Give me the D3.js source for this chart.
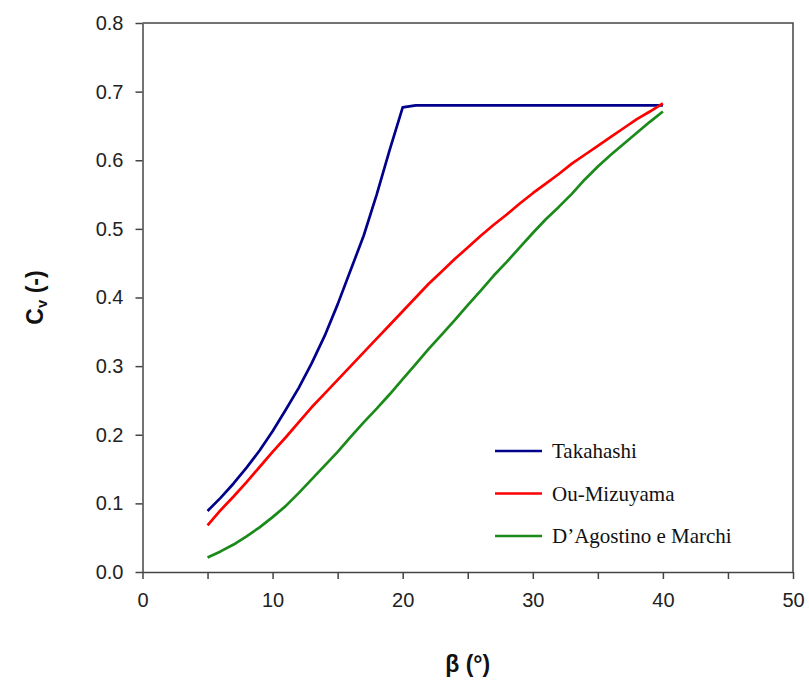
<!DOCTYPE html>
<html>
<head>
    <script src="https://cdnjs.cloudflare.com/ajax/libs/d3/7.8.5/d3.min.js"></script>
    <style>
        body { margin: 0; background: #fff; }
        .tick text { font-family: "Liberation Sans", Arial, sans-serif; font-size: 20px; fill: #222; }
        .domain, .tick line { stroke: #444; stroke-width: 1.5; }
        .axis-label { font-family: "Liberation Sans", Arial, sans-serif; font-size: 23px; font-weight: bold; fill: #111; }
        .legend-text { font-family: "Liberation Serif", "Times New Roman", serif; font-size: 21px; fill: #111; }
        .line { fill: none; stroke-width: 2.7; stroke-linejoin: round; }
    </style>
</head>
<body>
    <svg width="809" height="684"></svg>
    <script>
        // beta in degrees
        const beta = d3.range(5, 41);

        const takahashi = [0.089, 0.108, 0.129, 0.152, 0.177, 0.205, 0.236, 0.268, 0.304, 0.344,
            0.390, 0.440, 0.490, 0.550, 0.615, 0.677, 0.680, 0.680, 0.680, 0.680,
            0.680, 0.680, 0.680, 0.680, 0.680, 0.680, 0.680, 0.680, 0.680, 0.680,
            0.680, 0.680, 0.680, 0.680, 0.680, 0.680];

        const ouMizuyama = [0.068, 0.090, 0.110, 0.131, 0.153, 0.175, 0.196, 0.218, 0.240, 0.260,
            0.280, 0.300, 0.320, 0.340, 0.360, 0.380, 0.400, 0.420, 0.438, 0.456,
            0.473, 0.490, 0.506, 0.521, 0.537, 0.552, 0.566, 0.580, 0.595, 0.608,
            0.621, 0.634, 0.647, 0.660, 0.671, 0.683];

        const dagostino = [0.021, 0.030, 0.040, 0.052, 0.065, 0.080, 0.096, 0.115, 0.135, 0.155,
            0.175, 0.197, 0.218, 0.238, 0.259, 0.281, 0.303, 0.325, 0.346, 0.367,
            0.389, 0.410, 0.432, 0.452, 0.473, 0.494, 0.514, 0.532, 0.551, 0.572,
            0.591, 0.608, 0.624, 0.640, 0.656, 0.671];

        const seriesNames = ["Takahashi", "Ou-Mizuyama", "D\u2019Agostino e Marchi"];
        const seriesColors = ["#00008b", "#ff0000", "#1a8a1a"];
        const xTicks = [0, 10, 20, 30, 40, 50];
        const xMinorTicks = d3.range(0, 51, 5);
        const yTicks = d3.range(0, 0.81, 0.1);

        const margin = {top: 23, right: 16, bottom: 112, left: 142.5};
        const width = 809 - margin.left - margin.right;
        const height = 684 - margin.top - margin.bottom;

        const svg = d3.select("svg")
            .append("g")
            .attr("transform", `translate(${margin.left},${margin.top})`);

        const x = d3.scaleLinear().domain([0, 50]).range([0, width]);
        const y = d3.scaleLinear().domain([0, 0.8]).range([height, 0]);

        // frame (top and right)
        svg.append("path")
            .attr("d", `M0,0H${width}V${height}`)
            .attr("fill", "none")
            .attr("stroke", "#444")
            .attr("stroke-width", 1.5);

        // X axis, ticks every 5 and labels every 10
        svg.append("g")
            .attr("transform", `translate(0,${height})`)
            .call(d3.axisBottom(x)
                .tickValues(xMinorTicks)
                .tickSize(7)
                .tickSizeOuter(0)
                .tickPadding(14)
                .tickFormat(d => xTicks.includes(d) ? d : ""));

        // Y axis
        svg.append("g")
            .call(d3.axisLeft(y)
                .tickValues(yTicks)
                .tickSize(7)
                .tickSizeOuter(0)
                .tickPadding(12)
                .tickFormat(d3.format(".1f")));

        // axis titles
        svg.append("text")
            .attr("class", "axis-label")
            .attr("x", x(25))
            .attr("y", height + 100)
            .attr("text-anchor", "middle")
            .text("\u03b2 (\u00b0)");

        const yl = svg.append("text")
            .attr("class", "axis-label")
            .attr("transform", `translate(${-100},${y(0.4)}) rotate(-90)`)
            .attr("text-anchor", "middle");
        yl.append("tspan").text("C");
        yl.append("tspan").attr("font-size", "15px").attr("dy", 4).text("v");
        yl.append("tspan").attr("dy", -4).text(" (-)");

        const line = d3.line()
            .x(d => x(d[0]))
            .y(d => y(d[1]));

        const allSeries = [takahashi, ouMizuyama, dagostino];
        allSeries.forEach((vals, i) => {
            svg.append("path")
                .datum(beta.map((b, j) => [b, vals[j]]))
                .attr("class", "line")
                .attr("stroke", seriesColors[i])
                .attr("d", line);
        });

        // legend
        const legend = svg.append("g")
            .attr("transform", `translate(${495 - margin.left},${451 - margin.top})`);
        seriesNames.forEach((name, i) => {
            const g = legend.append("g").attr("transform", `translate(0,${i * 42.5})`);
            g.append("line")
                .attr("x1", 0).attr("x2", 47)
                .attr("stroke", seriesColors[i])
                .attr("stroke-width", 2.7);
            g.append("text")
                .attr("class", "legend-text")
                .attr("x", 57)
                .attr("dy", "0.35em")
                .text(name);
        });
    </script>
</body>
</html>
